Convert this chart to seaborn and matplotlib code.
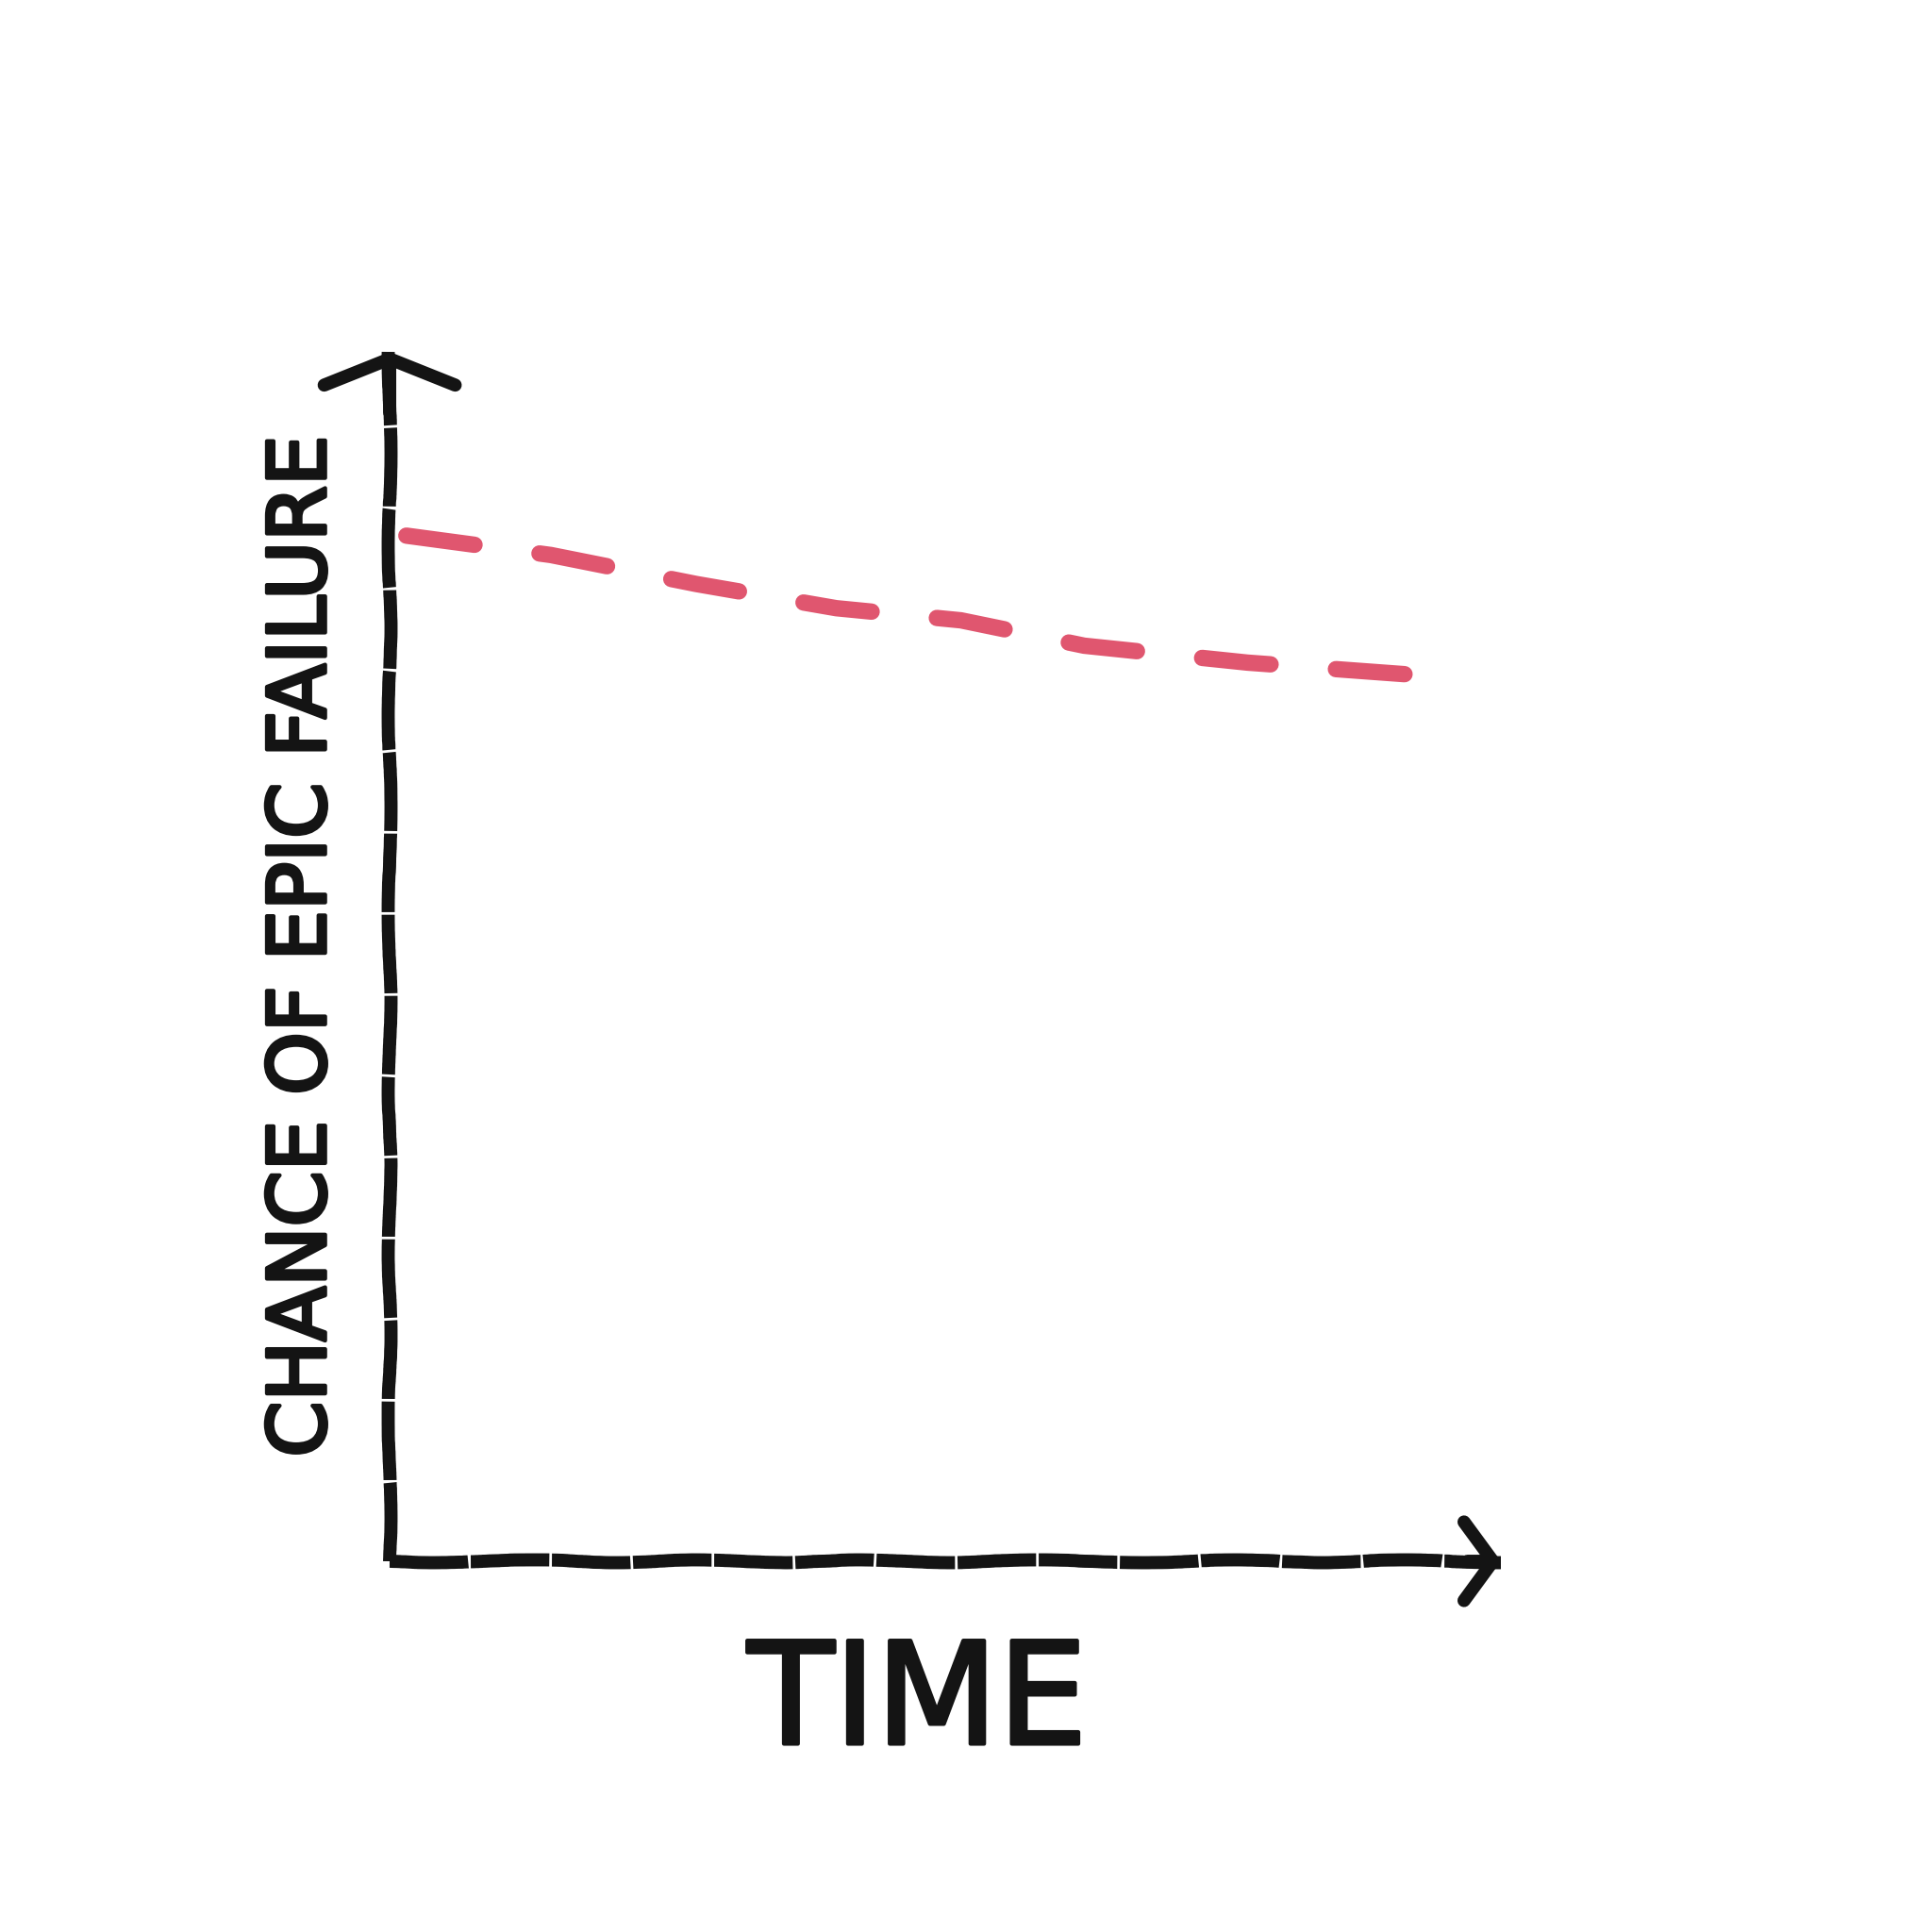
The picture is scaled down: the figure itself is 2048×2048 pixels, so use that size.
import matplotlib
matplotlib.use("Agg")
import matplotlib.pyplot as plt
import matplotlib.patheffects as pe
import pandas as pd
import seaborn as sns

# values (axes run 0..100 both ways)
time = [1.5, 14.5, 27.6, 40.2, 51.4, 62.5, 77.2, 93.5]
chance = [84.8, 83.2, 80.8, 78.8, 77.8, 75.7, 74.3, 73.2]

X_LABEL = "TIME"
Y_LABEL = "CHANCE OF EPIC FAILURE"

THREAD_BLACK = "#141414"
THREAD_RED = "#e0566f"


def stitched_arrow(ax, start, end, width, length):
    ax.annotate(
        "", xy=end, xytext=start, xycoords="axes fraction",
        arrowprops=dict(
            arrowstyle=f"->, head_width={width}, head_length={length}",
            color=THREAD_BLACK, lw=10, mutation_scale=100,
            shrinkA=0, shrinkB=0, capstyle="round", joinstyle="round",
        ),
        annotation_clip=False,
    )


def plot_failure_chart(df, fname="out.png"):
    sns.set_style("white")
    plt.rcParams["font.family"] = ["DejaVu Sans"]
    fig = plt.figure(figsize=(20.48, 20.48), dpi=100)
    ax = fig.add_axes([0.2017, 0.1919, 0.5752, 0.626])

    line = sns.lineplot(
        data=df, x="time", y="chance", ax=ax, color=THREAD_RED,
        linewidth=12.5, estimator=None, sort=False,
    ).lines[0]
    line.set_dashes((4.2, 4.0))
    line.set_dash_capstyle("round")

    ax.set_xlim(0, 100)
    ax.set_ylim(0, 100)
    ax.set_xticks([])
    ax.set_yticks([])
    sns.despine(ax=ax)
    for side in ["left", "bottom"]:
        sp = ax.spines[side]
        sp.set_linewidth(10)
        sp.set_color(THREAD_BLACK)
        sp.set_linestyle((0, (6.0, 0.2)))
        sp.set_capstyle("butt")
        sp.set_sketch_params(scale=1.5, length=320, randomness=6)

    # arrow heads on both axes
    stitched_arrow(ax, (0, 0.95), (0, 1.0), 0.5, 0.2)
    stitched_arrow(ax, (0.97, 0), (1.0, 0), 0.3, 0.22)

    stroke = [pe.withStroke(linewidth=3, foreground=THREAD_BLACK)]
    ax.set_xlabel(X_LABEL, fontsize=108, color=THREAD_BLACK, path_effects=stroke)
    ax.xaxis.set_label_coords(0.475, -0.062)
    ax.xaxis.label.set_va("top")
    ax.set_ylabel(Y_LABEL, fontsize=61, color=THREAD_BLACK, path_effects=stroke)
    ax.yaxis.set_label_coords(-0.078, 0.509)
    ax.yaxis.label.set_va("center")

    fig.savefig(fname, dpi=100, facecolor="white")


df = pd.DataFrame({"time": time, "chance": chance})
plot_failure_chart(df)
